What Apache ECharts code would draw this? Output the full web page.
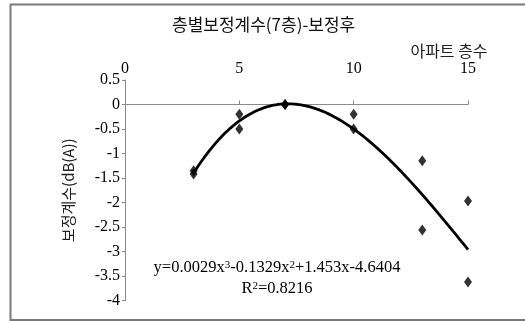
<!DOCTYPE html>
<html>
<head>
<meta charset="utf-8">
<script src="https://cdn.jsdelivr.net/npm/echarts@6/dist/echarts.min.js"></script>
<style>
  html, body { margin: 0; padding: 0; background: #fff; }
  #chart { width: 525px; height: 321px; }
</style>
</head>
<body>
<div id="chart"></div>
<script>
// Floor number of each measurement and its correction value (dB(A))
const floors = [3, 3, 5, 5, 7, 7, 10, 10, 13, 13, 15, 15];
const corrections = [-1.35, -1.42, -0.2, -0.5, 0, 0, -0.2, -0.5, -1.15, -2.56, -1.97, -3.62];

// Cubic trendline coefficients, highest power first, and its R²
const trendCoef = [0.0029, -0.1329, 1.453, -4.6404];
const rSquared = 0.8216;

// Axis ranges
const xTicks = [0, 5, 10, 15];
const yRange = [-4, 0.5];
const yStep = 0.5;

const serif = 'Liberation Serif, Times New Roman, serif';
const kr = 'Noto Sans CJK KR, sans-serif';

function trendAt(x) {
  return trendCoef.reduce((acc, c) => acc * x + c, 0);
}

// Trendline sampled across the measured floor range
const xFrom = Math.min(...floors), xTo = Math.max(...floors);
const trendData = [];
for (let i = 0; i <= 120; i++) {
  const x = xFrom + (xTo - xFrom) * i / 120;
  trendData.push([x, trendAt(x)]);
}

// Equation label built from the coefficients
function term(c, first) {
  const s = Math.abs(c).toString();
  if (first) return (c < 0 ? '-' : '') + s;
  return (c < 0 ? '-' : '+') + s;
}
const eqText = 'y=' + term(trendCoef[0], true) + 'x{sup|3}' +
  term(trendCoef[1]) + 'x{sup|2}' +
  term(trendCoef[2]) + 'x' +
  term(trendCoef[3]);
const r2Text = 'R{sup|2}=' + rSquared;

const chart = echarts.init(document.getElementById('chart'), null, { renderer: 'canvas' });

const scatterData = floors.map((f, i) => [f, corrections[i]]);

const supStyle = { fontSize: 11, fontFamily: serif, verticalAlign: 'top', padding: [0, 0, 6, 0] };

chart.setOption({
  animation: false,
  backgroundColor: '#fff',
  title: {
    text: '층별보정계수(7층)-보정후',
    left: 172,
    top: 16,
    padding: 0,
    textStyle: { fontFamily: kr, fontSize: 17, fontWeight: 'normal', color: '#111' }
  },
  grid: { left: 125, right: 57, top: 80, bottom: 20.5, containLabel: false },
  xAxis: [
    {
      type: 'value',
      position: 'top',
      min: xTicks[0],
      max: xTicks[xTicks.length - 1],
      interval: xTicks[1] - xTicks[0],
      axisLine: { show: true, onZero: true, lineStyle: { color: '#8a8a8a', width: 1 } },
      axisTick: { show: true, length: 4, lineStyle: { color: '#8a8a8a' } },
      axisLabel: { show: false },
      splitLine: { show: false }
    },
    {
      type: 'value',
      position: 'top',
      min: xTicks[0],
      max: xTicks[xTicks.length - 1],
      interval: xTicks[1] - xTicks[0],
      axisLine: { show: false, onZero: false },
      axisTick: { show: false },
      axisLabel: { margin: 3, fontFamily: serif, fontSize: 16, color: '#000' },
      splitLine: { show: false },
      name: '아파트 층수',
      nameLocation: 'end',
      nameGap: -19,
      nameTextStyle: {
        fontFamily: kr, fontSize: 16, color: '#222',
        align: 'center', verticalAlign: 'bottom', padding: [0, 0, 21, 0]
      }
    }
  ],
  yAxis: {
    type: 'value',
    min: yRange[0],
    max: yRange[1],
    interval: yStep,
    axisLine: { show: true, onZero: false, lineStyle: { color: '#8a8a8a', width: 1 } },
    axisTick: { show: true, length: 3, lineStyle: { color: '#8a8a8a' } },
    axisLabel: { margin: 5, fontFamily: serif, fontSize: 16, color: '#000' },
    splitLine: { show: false },
    name: '보정계수(dB(A))',
    nameLocation: 'middle',
    nameGap: 49,
    nameTextStyle: { fontFamily: kr, fontSize: 15, color: '#222' }
  },
  series: [
    {
      type: 'line',
      xAxisIndex: 0,
      data: trendData,
      showSymbol: false,
      smooth: false,
      lineStyle: { color: '#000', width: 2.8 },
      z: 2
    },
    {
      type: 'scatter',
      xAxisIndex: 0,
      data: scatterData,
      symbol: 'diamond',
      symbolSize: [8, 11],
      itemStyle: { color: '#000' },
      z: 3
    }
  ],
  graphic: [
    {
      type: 'rect',
      shape: { x: 10.5, y: 4.5, width: 540, height: 315.5 },
      style: { fill: 'none', stroke: '#7a7a7a', lineWidth: 2 },
      silent: true
    },
    {
      type: 'text',
      x: 277,
      y: 268,
      style: {
        text: eqText,
        align: 'center',
        verticalAlign: 'middle',
        font: '16.5px ' + serif,
        fill: '#000',
        rich: { sup: supStyle }
      }
    },
    {
      type: 'text',
      x: 277,
      y: 289,
      style: {
        text: r2Text,
        align: 'center',
        verticalAlign: 'middle',
        font: '16.5px ' + serif,
        fill: '#000',
        rich: { sup: supStyle }
      }
    }
  ]
});
</script>
</body>
</html>
